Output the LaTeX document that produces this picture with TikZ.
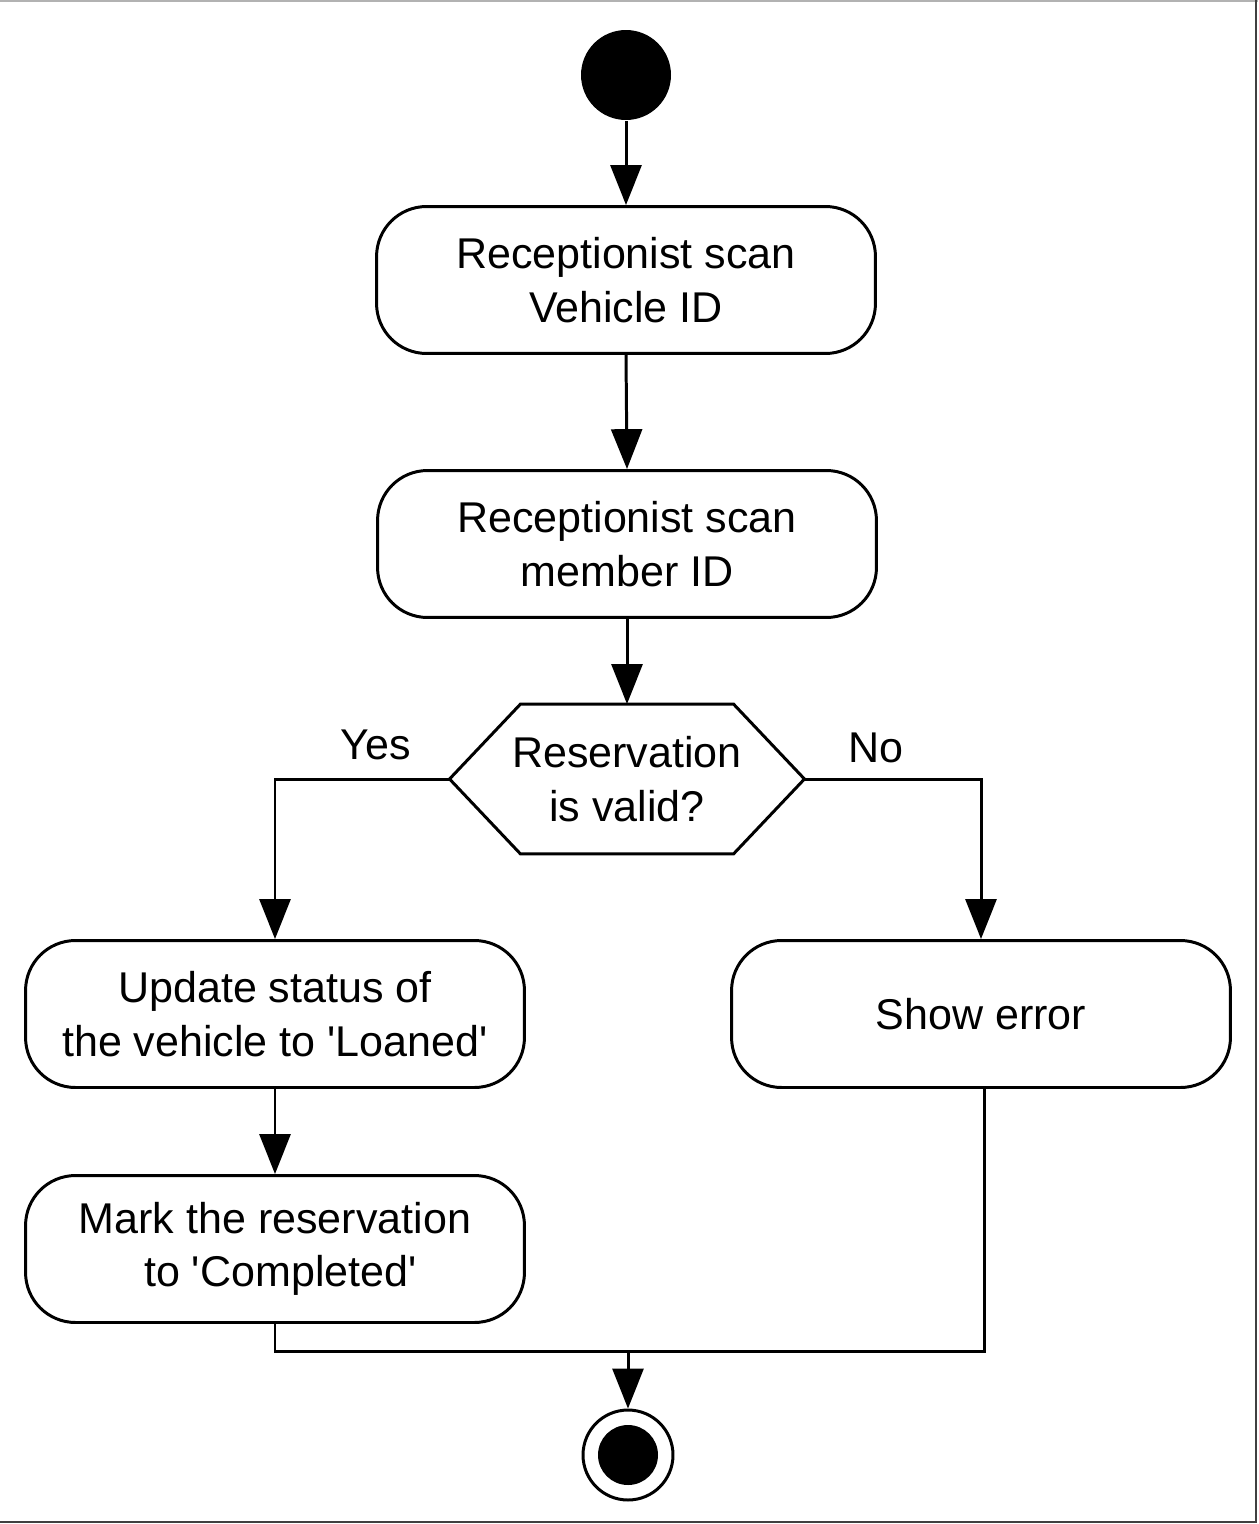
\documentclass[tikz,border=0pt]{standalone}
\usepackage{fontspec}
\setmainfont{Liberation Sans}
\usepackage{tikz}
\usetikzlibrary{arrows.meta}

\begin{document}
\begin{tikzpicture}[x=0.02cm, y=-0.02cm, line width=1.7pt,
		every node/.style={font=\fontsize{24.5}{30.5}\selectfont},
		activity/.style={draw, rounded corners=1cm, minimum width=9.98cm, minimum height=2.94cm, align=center, inner sep=0pt},
		flow/.style={-{Triangle[width=17.6pt, length=22.7pt]}}]
			\useasboundingbox (0,0) rectangle (1258,1524);
			\draw[black!30, line width=1.2pt] (0,1) -- (1258,1);
			\draw[black!75, line width=1.2pt] (1256,0) -- (1256,1522) -- (0,1522);
			\node[circle, fill, minimum size=1.8cm, inner sep=0pt] at (626,75) (start){};
			\node[activity] at (626,280) (scanveh){Receptionist scan\\Vehicle ID};
			\node[activity] at (627,544) (scanmem){Receptionist scan\\member ID};
			\node[minimum width=7.04cm, minimum height=2.94cm, align=center, inner sep=0pt] at (627,779) (valid){Reservation\\is valid?};
			\draw (valid.west) -- ([xshift=1.42cm]valid.north west) -- ([xshift=-1.42cm]valid.north east) -- (valid.east)
				-- ([xshift=-1.42cm]valid.south east) -- ([xshift=1.42cm]valid.south west) -- cycle;
			\node[activity] at (275,1014) (loaned){Update status of\\the vehicle to \textquotesingle Loaned\textquotesingle};
			\node[activity] at (981,1014) (showerr){Show error};
			\node[activity] at (275,1249) (complete){Mark the reservation\\\hspace*{0.25em}to \textquotesingle Completed\textquotesingle};
			\node[circle, draw, minimum size=1.8cm, inner sep=0pt] at (628,1455) (finish){};
			\fill (finish.center) circle (0.6cm);
			\node at (376,745) (yes){Yes};
			\node at (876,748) (no){No};
			\coordinate (merge) at (628,1351);
			\draw[flow] (start.south) -- (scanveh.north);
			\draw[flow] (scanveh.south) -- (scanmem.north);
			\draw[flow] (scanmem.south) -- (valid.north);
			\draw[flow] (valid.west) -| (loaned.north);
			\draw[flow] (valid.east) -| (showerr.north);
			\draw[flow] (loaned.south) -- (complete.north);
			\draw (complete.south) |- (merge);
			\draw ([xshift=0.06cm]showerr.south) |- (merge);
			\draw[flow] (merge) -- (finish.north);
		\end{tikzpicture}
\end{document}
